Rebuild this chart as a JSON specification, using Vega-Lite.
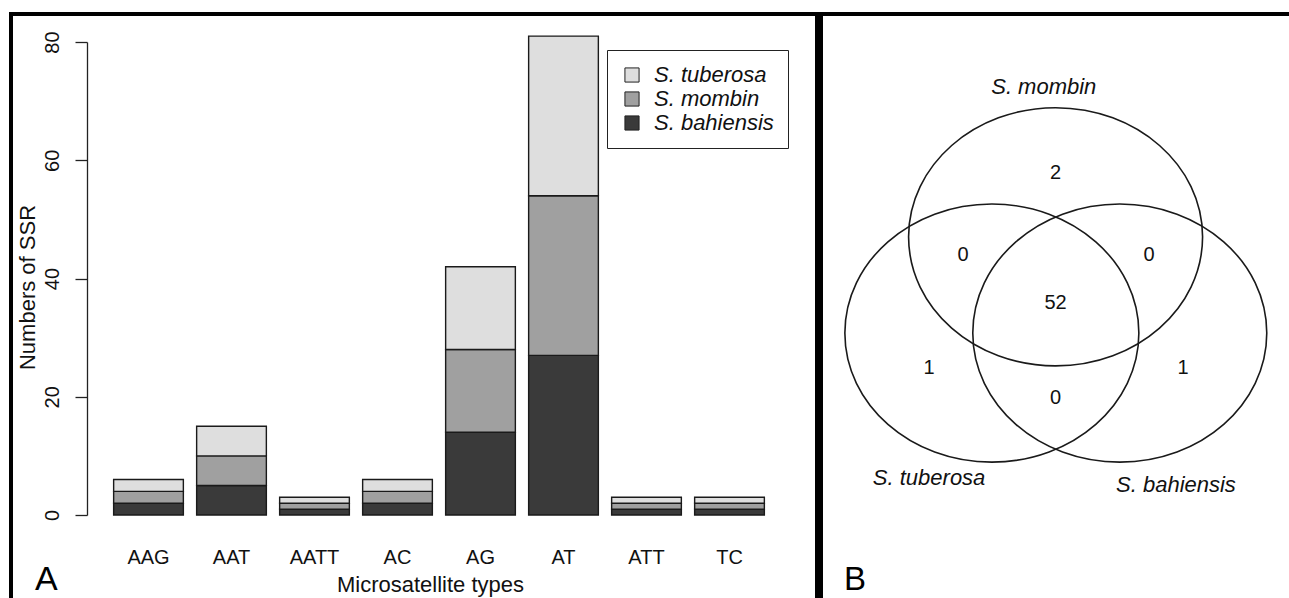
{
  "$schema": "https://vega.github.io/schema/vega-lite/v6.json",
  "padding": {"left": 9, "top": 12, "right": 0, "bottom": 0},
  "spacing": 0,
  "background": "white",
  "config": {
    "font": "Liberation Sans",
    "view": {"stroke": "#000000", "strokeWidth": 4},
    "title": {"font": "Liberation Sans", "fontWeight": "normal", "color": "#000000"}
  },
  "hconcat": [
    {
      "width": 806,
      "height": 590,
      "title": {"text": "A", "orient": "bottom", "anchor": "start", "frame": "group", "offset": -14, "baseline": "alphabetic", "dx": 24, "fontSize": 34},
      "data": {
        "values": [
          {"type": "AAG", "species": "S. bahiensis", "count": 2},
          {"type": "AAG", "species": "S. mombin", "count": 2},
          {"type": "AAG", "species": "S. tuberosa", "count": 2},
          {"type": "AAT", "species": "S. bahiensis", "count": 5},
          {"type": "AAT", "species": "S. mombin", "count": 5},
          {"type": "AAT", "species": "S. tuberosa", "count": 5},
          {"type": "AATT", "species": "S. bahiensis", "count": 1},
          {"type": "AATT", "species": "S. mombin", "count": 1},
          {"type": "AATT", "species": "S. tuberosa", "count": 1},
          {"type": "AC", "species": "S. bahiensis", "count": 2},
          {"type": "AC", "species": "S. mombin", "count": 2},
          {"type": "AC", "species": "S. tuberosa", "count": 2},
          {"type": "AG", "species": "S. bahiensis", "count": 14},
          {"type": "AG", "species": "S. mombin", "count": 14},
          {"type": "AG", "species": "S. tuberosa", "count": 14},
          {"type": "AT", "species": "S. bahiensis", "count": 27},
          {"type": "AT", "species": "S. mombin", "count": 27},
          {"type": "AT", "species": "S. tuberosa", "count": 27},
          {"type": "ATT", "species": "S. bahiensis", "count": 1},
          {"type": "ATT", "species": "S. mombin", "count": 1},
          {"type": "ATT", "species": "S. tuberosa", "count": 1},
          {"type": "TC", "species": "S. bahiensis", "count": 1},
          {"type": "TC", "species": "S. mombin", "count": 1},
          {"type": "TC", "species": "S. tuberosa", "count": 1}
        ]
      },
      "mark": {"type": "bar", "stroke": "#1a1a1a", "strokeWidth": 1.4},
      "encoding": {
        "x": {
          "field": "type", "type": "nominal", "sort": null,
          "scale": {"range": [96, 760], "paddingInner": 0.16, "paddingOuter": 0.08},
          "axis": {"title": "Microsatellite types", "offset": -64, "domain": false, "ticks": false, "labelPadding": 7, "labelAngle": 0, "labelFontSize": 20, "labelColor": "#111111", "titleFontSize": 22, "titleFontWeight": "normal", "titleColor": "#111111", "titlePadding": 7, "titleX": 419, "grid": false}
        },
        "y": {
          "field": "count", "type": "quantitative", "stack": "zero",
          "scale": {"domain": [0, 80], "range": [501, 28], "nice": false},
          "axis": {"values": [0, 20, 40, 60, 80], "title": "Numbers of SSR", "offset": -76, "tickSize": 12, "tickColor": "#222222", "tickWidth": 1.3, "domainColor": "#222222", "domainWidth": 1.3, "labelAngle": -90, "labelAlign": "center", "labelBaseline": "alphabetic", "labelPadding": 17, "labelFontSize": 20, "labelColor": "#111111", "titleFontSize": 22, "titleFontWeight": "normal", "titleColor": "#111111", "titlePadding": 3, "titleY": 273, "grid": false}
        },
        "color": {
          "field": "species", "type": "nominal",
          "scale": {"domain": ["S. tuberosa", "S. mombin", "S. bahiensis"], "range": ["#dedede", "#a0a0a0", "#3a3a3a"]},
          "legend": {"title": null, "orient": "none", "legendX": 596, "legendY": 36, "strokeColor": "#222222", "fillColor": "white", "padding": 14, "labelFontSize": 22, "labelFontStyle": "italic", "labelColor": "#111111", "labelLimit": 400, "symbolType": "square", "symbolSize": 200, "symbolStrokeColor": "#222222", "symbolStrokeWidth": 1, "symbolOpacity": 1, "labelOffset": 11, "rowPadding": 2}
        },
        "order": {"field": "species", "sort": "ascending"}
      }
    },
    {
      "width": 472,
      "height": 590,
      "title": {"text": "B", "orient": "bottom", "anchor": "start", "frame": "group", "offset": -14, "baseline": "alphabetic", "dx": 23, "fontSize": 33},
      "layer": [
        {
          "data": {"values": [
            {"set": "S. mombin", "x": 49.7, "y": 77.8},
            {"set": "S. tuberosa", "x": 36.2, "y": 57.4},
            {"set": "S. bahiensis", "x": 63.3, "y": 57.4}
          ]},
          "mark": {"type": "point", "shape": "M1,0C1,0.485 0.552,0.878 0,0.878C-0.552,0.878 -1,0.485 -1,0C-1,-0.485 -0.552,-0.878 0,-0.878C0.552,-0.878 1,-0.485 1,0Z", "size": 86436, "filled": false, "stroke": "#1a1a1a", "strokeWidth": 1.6, "opacity": 1},
          "encoding": {
            "x": {"field": "x", "type": "quantitative", "scale": {"domain": [0, 100], "nice": false, "zero": false}, "axis": null},
            "y": {"field": "y", "type": "quantitative", "scale": {"domain": [0, 125], "nice": false, "zero": false}, "axis": null}
          }
        },
        {
          "data": {"values": [
            {"label": "2", "x": 49.7, "y": 91.3},
            {"label": "0", "x": 30.1, "y": 73.9},
            {"label": "0", "x": 69.5, "y": 73.9},
            {"label": "52", "x": 49.7, "y": 63.8},
            {"label": "1", "x": 22.9, "y": 50.0},
            {"label": "1", "x": 76.7, "y": 50.0},
            {"label": "0", "x": 49.7, "y": 43.6}
          ]},
          "mark": {"type": "text", "fontSize": 20, "color": "#111111"},
          "encoding": {
            "x": {"field": "x", "type": "quantitative"},
            "y": {"field": "y", "type": "quantitative"},
            "text": {"field": "label"}
          }
        },
        {
          "data": {"values": [
            {"label": "S. mombin", "x": 47.2, "y": 109.5},
            {"label": "S. tuberosa", "x": 22.9, "y": 26.7},
            {"label": "S. bahiensis", "x": 75.2, "y": 25.2}
          ]},
          "mark": {"type": "text", "fontSize": 22, "fontStyle": "italic", "color": "#111111"},
          "encoding": {
            "x": {"field": "x", "type": "quantitative"},
            "y": {"field": "y", "type": "quantitative"},
            "text": {"field": "label"}
          }
        }
      ]
    }
  ]
}
